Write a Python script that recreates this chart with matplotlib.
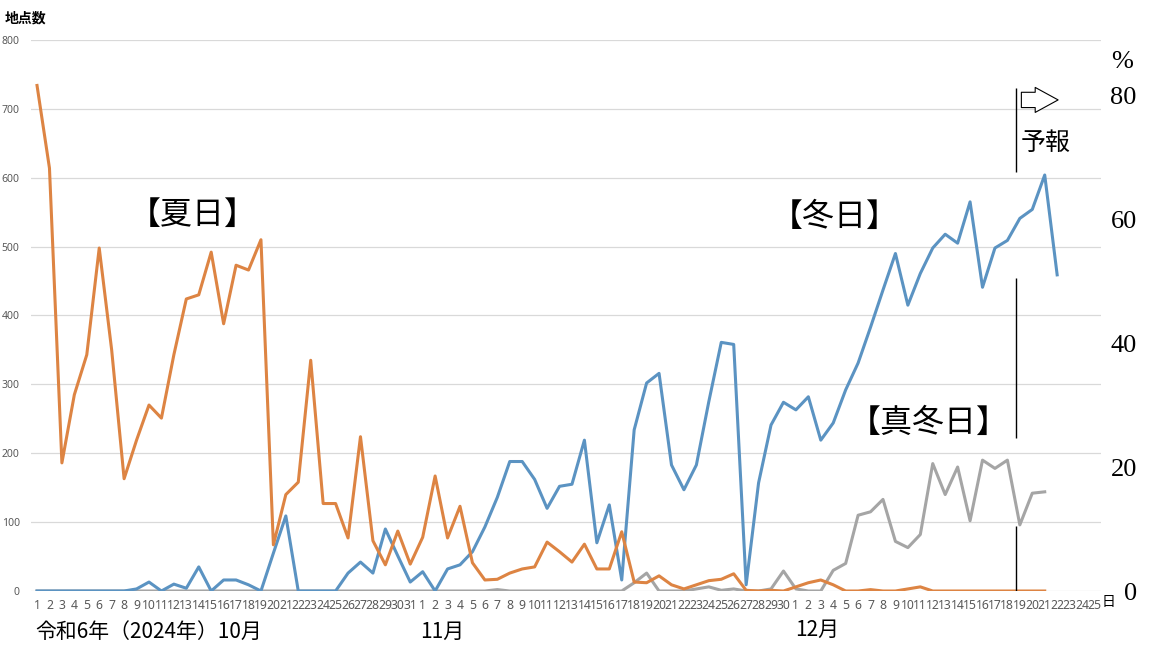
import numpy as np
import matplotlib
matplotlib.use('Agg')
import matplotlib.pyplot as plt

plt.rcParams['font.family'] = ['Noto Sans CJK JP', 'DejaVu Sans']

# days: Oct 1..31, Nov 1..30, Dec 1..25
days = list(range(1, 32)) + list(range(1, 31)) + list(range(1, 26))
nan = np.nan

# 夏日 (Oct 1 .. Dec 21)
natsubi = [734, 614, 186, 285, 343, 498, 350, 163, 219, 270, 251, 343, 424, 430, 492, 388,
           473, 466, 510, 67, 140, 158, 335, 127, 127, 77, 224, 73, 38, 87, 39,
           78, 167, 77, 123, 41, 16, 17, 26, 32, 35, 71, 57, 42, 68, 32, 32, 86, 13, 12,
           22, 9, 3, 9, 15, 17, 25, 1, 0, 1, 0,
           6, 12, 16, 9, 0, 0, 2, 0, 0, 3, 6, 0, 0, 0, 0, 0, 0, 0, 0, 0, 0] + [nan] * 4

# 冬日 (Oct 1 .. Dec 22)
fuyubi = [0, 0, 0, 0, 0, 0, 0, 0, 3, 13, 0, 10, 4, 35, 0, 16, 16, 9, 0, 55, 109, 0, 0, 0,
          0, 26, 42, 26, 90, 51, 13,
          28, 0, 32, 38, 57, 93, 136, 188, 188, 162, 120, 152, 155, 219, 70, 125, 16, 234,
          302, 316, 183, 147, 183, 275, 361, 358, 9, 157, 241, 274,
          263, 282, 219, 244, 292, 331, 383, 437, 490, 415, 461, 498, 518, 505, 565, 441,
          498, 509, 541, 554, 604, 459] + [nan] * 3

# 真冬日 (Oct 1 .. Dec 21)
mafuyubi = [0] * 31 + \
    [0, 0, 0, 0, 0, 0, 2, 0, 0, 0, 0, 0, 0, 0, 0, 0, 0, 12, 26, 0, 0, 0, 3, 6, 1, 3, 0, 0, 3, 29] + \
    [3, 0, 0, 30, 40, 110, 115, 133, 72, 63, 82, 185, 140, 180, 102, 190, 178, 190, 96, 142, 144] + \
    [nan] * 4

x = np.arange(len(days))

fig = plt.figure(figsize=(11.49, 6.47), dpi=100)
ax = fig.add_axes([30.8 / 1149, 1 - 591 / 647, 1069.9 / 1149, 551 / 647])

ax.plot(x, mafuyubi, color='#a5a5a5', lw=2.2, zorder=3)
ax.plot(x, fuyubi, color='#5b93c2', lw=2.2, zorder=4)
ax.plot(x, natsubi, color='#dd8443', lw=2.2, zorder=5)

ax.set_xlim(-0.5, len(days) - 0.5)
ax.set_ylim(0, 800)
ax.set_yticks(range(0, 801, 100))
ax.set_xticks(x)
ax.set_xticklabels([str(d) for d in days], fontsize=8.8, color='#595959', family='Noto Sans')
ax.tick_params(axis='x', length=0, pad=6)
ax.tick_params(axis='y', length=0, pad=8, labelsize=7.5, labelcolor='#595959')
for lb in ax.get_yticklabels():
    lb.set_family('Noto Sans')
ax.grid(axis='y', color='#d9d9d9', lw=0.9)
ax.set_axisbelow(True)
for s in ax.spines.values():
    s.set_visible(False)

# right axis (%)
ax2 = ax.twinx()
ax2.set_ylim(0, 80 * 800 / 718.7)
ax2.set_yticks([0, 20, 40, 60, 80])
ax2.tick_params(axis='y', length=0, pad=26, labelsize=19)
for lb in ax2.get_yticklabels():
    lb.set_family('Liberation Serif')
    lb.set_horizontalalignment('right')
for s in ax2.spines.values():
    s.set_visible(False)

# forecast divider line and arrow
for y0, y1 in [(608, 730), (222, 454), (0, 94)]:
    ax.vlines(78.7, y0, y1, color='black', lw=1.0, zorder=6)
ax.annotate('', xy=(82.3, 713), xytext=(78.9, 713),
            arrowprops=dict(arrowstyle='simple,head_length=1.65,head_width=1.8,tail_width=1.1',
                            mutation_scale=10, fc='white', ec='black', lw=0.8))

ax.text(12.5, 546, '【夏日】', fontsize=23, ha='center', va='center')
ax.text(64.1, 543, '【冬日】', fontsize=23, ha='center', va='center')
ax.text(71.7, 244, '【真冬日】', fontsize=23, ha='center', va='center',
        bbox=dict(fc='white', ec='none', pad=1), zorder=7)
ax.text(81.1, 650, '予報', fontsize=18, ha='center', va='center',
        bbox=dict(fc='white', ec='none', pad=2), zorder=7)

fig.text(5 / 1149, 1 - 18 / 647, '地点数', fontsize=10, fontweight='bold', va='center')
fig.text(1122 / 1149, 1 - 62 / 647, '%', fontsize=19, ha='center', va='center',
         family='Liberation Serif')
fig.text(1108 / 1149, 1 - 602 / 647, '日', fontsize=10, ha='center', va='center')
fig.text(35 / 1149, 1 - 632 / 647, '令和6年（2024年）10月', fontsize=15, va='center')
fig.text(420 / 1149, 1 - 632 / 647, '11月', fontsize=15, va='center')
fig.text(795 / 1149, 1 - 630 / 647, '12月', fontsize=15, va='center')

fig.savefig('out.png', dpi=100)
